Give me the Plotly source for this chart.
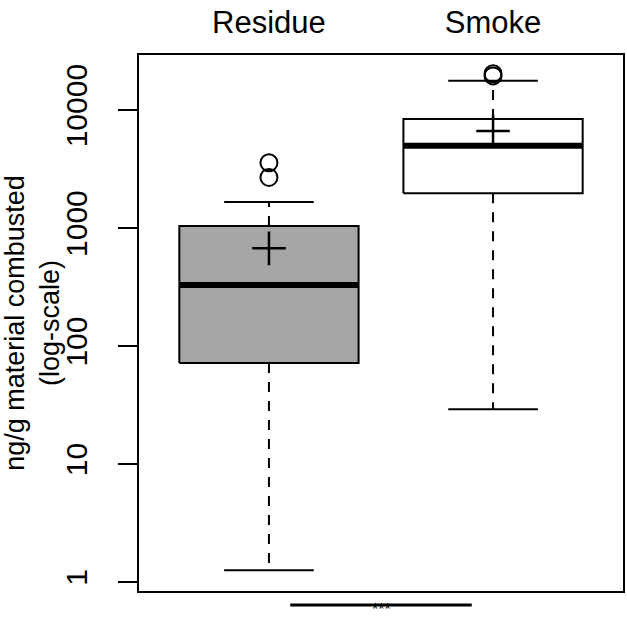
import plotly.graph_objects as go

groups = ["Residue", "Smoke"]
xpos = [1, 2]
q1 = [72, 1970]
median = [329, 4990]
q3 = [1040, 8410]
lower_whisker = [1.26, 29.2]
upper_whisker = [1660, 17750]
means = [673, 6650]
outliers = [[2690, 3580], [19500, 20300]]
fills = ["#A6A6A6", "#FFFFFF"]

tick_vals = [1, 10, 100, 1000, 10000]
tick_text = ["1", "10", "100", "1000", "10000"]

FONT = "Liberation Sans, Arial, sans-serif"
BW = 0.4   # half box width
SW = 0.2   # half staple width

fig = go.Figure()
for i, x in enumerate(xpos):
    fig.add_trace(go.Scatter(
        x=[x - BW, x + BW, x + BW, x - BW, x - BW],
        y=[q1[i], q1[i], q3[i], q3[i], q1[i]],
        mode="lines", fill="toself", fillcolor=fills[i],
        line=dict(color="black", width=2), hoverinfo="skip", showlegend=False))
    fig.add_trace(go.Scatter(x=[x, x], y=[q3[i], upper_whisker[i]], mode="lines",
                             line=dict(color="black", width=2, dash="10px,9px"), showlegend=False))
    fig.add_trace(go.Scatter(x=[x, x], y=[q1[i], lower_whisker[i]], mode="lines",
                             line=dict(color="black", width=2, dash="10px,9px"), showlegend=False))
    for w in (upper_whisker[i], lower_whisker[i]):
        fig.add_trace(go.Scatter(x=[x - SW, x + SW], y=[w, w], mode="lines",
                                 line=dict(color="black", width=2), showlegend=False))
    fig.add_trace(go.Scatter(x=[x - BW, x + BW], y=[median[i], median[i]], mode="lines",
                             line=dict(color="black", width=6), showlegend=False))
    fig.add_trace(go.Scatter(x=[x] * len(outliers[i]), y=outliers[i], mode="markers",
                             marker=dict(symbol="circle-open", size=17, color="black",
                                         line=dict(width=2, color="black")), showlegend=False))
    fig.add_trace(go.Scatter(x=[x], y=[means[i]], mode="markers",
                             marker=dict(symbol="cross-thin-open", size=24, color="black",
                                         line=dict(width=2.5, color="black")), showlegend=False))

fig.add_shape(type="line", xref="x", yref="paper", x0=1.095, x1=1.905, y0=-0.026, y1=-0.026,
              line=dict(color="black", width=3))
fig.add_annotation(x=1.5, xref="x", y=-0.0535, yref="paper", text="***", showarrow=False,
                   yanchor="bottom", font=dict(family=FONT, size=16, color="black"))

fig.update_layout(
    width=627, height=621, margin=dict(l=137, r=2, t=55, b=30),
    paper_bgcolor="white", plot_bgcolor="white", showlegend=False,
    font=dict(family=FONT, size=28, color="black"),
    xaxis=dict(range=[0.42, 2.58], side="top", tickvals=xpos, ticktext=groups,
               showline=True, mirror=True, linecolor="black", linewidth=2,
               ticks="", showgrid=False, zeroline=False, tickfont=dict(size=31),
               ticklabelstandoff=8),
    yaxis=dict(type="log", range=[-0.076, 4.467], tickvals=tick_vals, ticktext=tick_text,
               tickangle=-90, ticks="outside", ticklen=19, tickwidth=2, tickcolor="black",
               showline=True, mirror=True, linecolor="black", linewidth=2,
               showgrid=False, zeroline=False, tickfont=dict(size=30),
               ticklabelstandoff=19,
               title=dict(text="ng/g material combusted<br>(log-scale)", font=dict(size=27),
                          standoff=4)),
)

fig.write_html("out.html")
